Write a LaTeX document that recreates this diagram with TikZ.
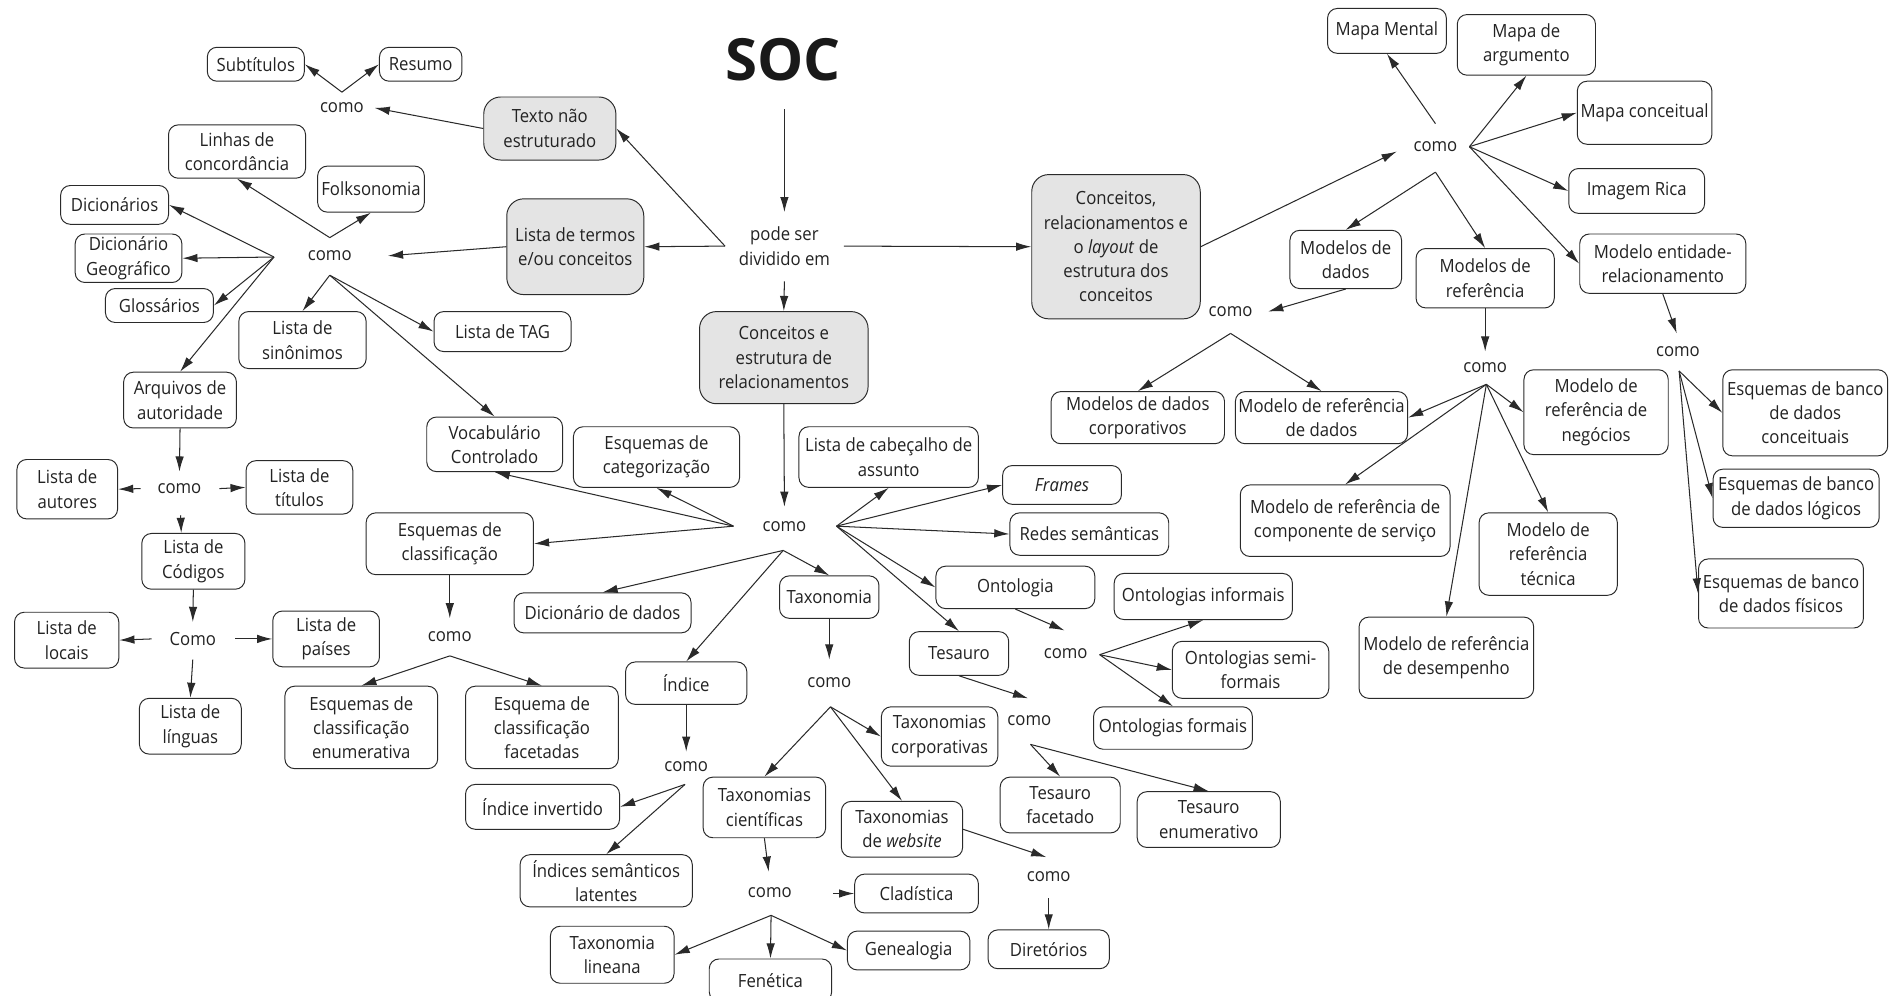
\documentclass[tikz,border=0pt]{standalone}
\usepackage{fontspec}
\setmainfont{Open Sans}[FakeStretch=0.92]
\newfontfamily\titlefont{Open Sans}
\usetikzlibrary{arrows.meta}

\definecolor{ink}{HTML}{222222}
\definecolor{edge}{HTML}{2A2A2A}
\definecolor{shade}{HTML}{E4E4E4}

\tikzset{
  txt/.style={font=\fontsize{15}{20}\selectfont, text=ink},
  bx/.style={txt, draw=edge, line width=0.8pt, rounded corners=8pt,
             align=center, inner sep=2pt, fill=white},
  gbx/.style={bx, fill=shade, rounded corners=14pt},
  sz/.style 2 args={minimum width=#1, minimum height=#2},
  lbl/.style={txt, inner sep=0pt, align=center},
  arr/.style={-{Latex[length=12.5pt,width=7pt]}, line width=0.85pt, draw=edge},
}

\begin{document}
\begin{tikzpicture}[x=1pt,y=-1pt]
\useasboundingbox (0,0) rectangle (1568,821);
\clip (0,0) rectangle (1568,821);

% ---------- title and first split ----------
\node[lbl, font=\titlefont\bfseries\fontsize{48}{50}\selectfont, text=black!90] (soc) at (646,49) {SOC};
\node[lbl] (pode) at (647,203) {pode ser\\dividido em};
\node[gbx, sz={109}{52}]  (texto)  at (453.5,106)  {Texto não\\estruturado};
\node[gbx, sz={113}{79}]  (termos) at (474.5,203.5) {Lista de termos\\e/ou conceitos};
\node[gbx, sz={139}{76}]  (cer)    at (646.5,295)  {Conceitos e\\estrutura de\\relacionamentos};
\node[gbx, sz={139}{119}] (crl)    at (920.5,203.5) {Conceitos,\\relacionamentos e\\o \textit{layout} de\\estrutura dos\\conceitos};

% ---------- left branch ----------
\node[bx, sz={80}{28}]  (subt)    at (211,53)    {Subtítulos};
\node[bx, sz={68}{28}]  (resumo)  at (347,53)    {Resumo};
\node[lbl]              (c1)      at (282,89)    {como};
\node[bx, sz={113}{44}] (linhas)  at (195.5,125) {Linhas de\\concordância};
\node[bx, sz={88}{38}]  (folk)    at (306,156)   {Folksonomia};
\node[bx, sz={89}{32}]  (dic)     at (94.5,169)  {Dicionários};
\node[bx, sz={88}{40}]  (dicgeo)  at (106,213)   {Dicionário\\Geográfico};
\node[bx, sz={89}{28}]  (gloss)   at (131.5,252) {Glossários};
\node[lbl]              (c2)      at (272,211)   {como};
\node[bx, sz={105}{47}] (sinon)   at (249.5,280.5) {Lista de\\sinônimos};
\node[bx, sz={113}{33}] (tag)     at (414.5,273.5) {Lista de TAG};
\node[bx, sz={93}{46}]  (arq)     at (148.5,330) {Arquivos de\\autoridade};
\node[bx, sz={112}{45}] (vocab)   at (408,366.5) {Vocabulário\\Controlado};
\node[lbl]              (c3)      at (148,403)   {como};
\node[bx, sz={83}{49}]  (autores) at (55.5,403.5) {Lista de\\autores};
\node[bx, sz={88}{44}]  (titulos) at (247,402)   {Lista de\\títulos};
\node[bx, sz={85}{46}]  (codigos) at (159.5,463) {Lista de\\Códigos};
\node[lbl]              (c4)      at (159,527)   {Como};
\node[bx, sz={86}{46}]  (locais)  at (55,528)    {Lista de\\locais};
\node[bx, sz={88}{46}]  (paises)  at (269,527)   {Lista de\\países};
\node[bx, sz={84}{46}]  (linguas) at (157,599)   {Lista de\\línguas};

% ---------- central branch ----------
\node[bx, sz={137}{50}] (categ)    at (541.5,377) {Esquemas de\\categorização};
\node[bx, sz={148}{50}] (cabec)    at (733,377)   {Lista de cabeçalho de\\assunto};
\node[lbl]              (c5)       at (647,434)   {como};
\node[bx, sz={138}{51}] (classif)  at (371,448.5) {Esquemas de\\classificação};
\node[lbl]              (c6)       at (371,525)   {como};
\node[bx, sz={126}{68}] (enum)     at (298,600)   {Esquemas de\\classificação\\enumerativa};
\node[bx, sz={126}{68}] (facet)    at (447,600)   {Esquema de\\classificação\\facetadas};
\node[bx, sz={146}{33}] (dicdados) at (497,505.5) {Dicionário de dados};
\node[bx, sz={98}{32}]  (frames)   at (876,400)   {\textit{Frames}};
\node[bx, sz={131}{35}] (redes)    at (898.5,440.5) {Redes semânticas};
\node[bx, sz={82}{35}]  (taxo)     at (684,492.5) {Taxonomia};
\node[bx, sz={131}{35}] (onto)     at (837.5,484.5) {Ontologia};
\node[bx, sz={100}{35}] (indice)   at (566,563.5) {Índice};
\node[bx, sz={82}{36}]  (tesauro)  at (791,539)   {Tesauro};
\node[lbl]              (c7)       at (879,539)   {como};
\node[bx, sz={147}{38}] (ontoinf)  at (992.5,492) {Ontologias informais};
\node[bx, sz={129}{47}] (ontosemi) at (1031.5,552.5) {Ontologias semi-\\formais};
\node[bx, sz={131}{35}] (ontoform) at (967.5,600.5) {Ontologias formais};
\node[lbl]              (c8)       at (684,563)   {como};
\node[lbl]              (c9)       at (849,594)   {como};
\node[lbl]              (c10)      at (566,632)   {como};
\node[bx, sz={96}{49}]  (taxcorp)  at (775,607.5) {Taxonomias\\corporativas};
\node[bx, sz={101}{50}] (taxcien)  at (630.5,666) {Taxonomias\\científicas};
\node[bx, sz={100}{46}] (taxweb)   at (744,684)   {Taxonomias\\de \textit{website}};
\node[bx, sz={99}{46}]  (tesfac)   at (874.5,664) {Tesauro\\facetado};
\node[bx, sz={118}{46}] (tesenum)  at (997,676)   {Tesauro\\enumerativo};
\node[bx, sz={127}{37}] (indinv)   at (447.5,665.5) {Índice invertido};
\node[bx, sz={142}{43}] (indsem)   at (500,726.5) {Índices semânticos\\latentes};
\node[lbl]              (c11)      at (635,736)   {como};
\node[bx, sz={102}{32}] (clad)     at (756,737)   {Cladística};
\node[lbl]              (c12)      at (865,723)   {como};
\node[bx, sz={100}{32}] (diret)    at (865,783)   {Diretórios};
\node[bx, sz={102}{47}] (lineana)  at (505,787.5) {Taxonomia\\lineana};
\node[bx, sz={101}{35}] (fenet)    at (635.5,808.5) {Fenética};
\node[bx, sz={101}{32}] (geneal)   at (749.5,784) {Genealogia};

% ---------- right branch ----------
\node[lbl]              (c13)      at (1184,121)  {como};
\node[bx, sz={98}{37}]  (mapment)  at (1144,25.5) {Mapa Mental};
\node[bx, sz={114}{50}] (mapaarg)  at (1259,37)   {Mapa de\\argumento};
\node[bx, sz={111}{52}] (mapaconc) at (1356.5,93) {Mapa conceitual};
\node[bx, sz={112}{37}] (imagem)   at (1350,157.5) {Imagem Rica};
\node[bx, sz={137}{49}] (mer)      at (1371.5,217.5) {Modelo entidade-\\relacionamento};
\node[bx, sz={92}{48}]  (moddados) at (1110,214)  {Modelos de\\dados};
\node[bx, sz={114}{49}] (modref)   at (1225,229.5) {Modelos de\\referência};
\node[lbl]              (c14)      at (1015,257)  {como};
\node[bx, sz={143}{43}] (mdcorp)   at (938.5,344.5) {Modelos de dados\\corporativos};
\node[bx, sz={142}{43}] (mrdados)  at (1090,344.5) {Modelo de referência\\de dados};
\node[lbl]              (c15)      at (1225,303)  {como};
\node[bx, sz={119}{70}] (mrneg)    at (1316.5,340) {Modelo de\\referência de\\negócios};
\node[bx, sz={173}{59}] (mrcomp)   at (1109.5,429.5) {Modelo de referência de\\componente de serviço};
\node[bx, sz={114}{68}] (mrtec)    at (1277,457)  {Modelo de\\referência\\técnica};
\node[bx, sz={144}{67}] (mrdes)    at (1193,542.5) {Modelo de referência\\de desempenho};
\node[lbl]              (c16)      at (1384,290)  {como};
\node[bx, sz={136}{71}] (ebconc)   at (1489,340.5) {Esquemas de banco\\de dados\\conceituais};
\node[bx, sz={137}{48}] (eblog)    at (1481.5,411) {Esquemas de banco\\de dados lógicos};
\node[bx, sz={136}{57}] (ebfis)    at (1469,489.5) {Esquemas de banco\\de dados físicos};

% ---------- connectors: first split ----------
\draw[arr] ([shift={(1,41)}]soc.center) -- ([shift={(0,-28)}]pode.center);
\draw[arr] ([shift={(-49,0)}]pode.center) -- (texto.east);
\draw[arr] ([shift={(-49,0)}]pode.center) -- (termos.east);
\draw[arr] ([shift={(49,0)}]pode.center) -- (crl.west);
\draw[arr] ([shift={(0,29)}]pode.center) -- (cer.north);

% ---------- connectors: left branch ----------
\draw[arr] (texto.west) -- ([shift={(27,0)}]c1.center);
\foreach \t in {subt.east, resumo.west}
  \draw[arr] ([shift={(0,-13)}]c1.center) -- (\t);
\draw[arr] (termos.west) -- ([shift={(48,0)}]c2.center);
\foreach \t in {dic.east, dicgeo.east, gloss.east, arq.north}
  \draw[arr] ([shift={(-46,1)}]c2.center) -- (\t);
\foreach \t in {linhas.south, folk.south}
  \draw[arr] ([shift={(0,-15)}]c2.center) -- (\t);
\foreach \t in {sinon.north, tag.west, vocab.north}
  \draw[arr] ([shift={(0,16)}]c2.center) -- (\t);
\draw[arr] (arq.south) -- ([shift={(0,-14)}]c3.center);
\draw[arr] ([shift={(-32,0)}]c3.center) -- (autores.east);
\draw[arr] ([shift={(33,0)}]c3.center) -- (titulos.west);
\draw[arr] ([shift={(1,22)}]c3.center) -- ([xshift=-10pt]codigos.north);
\draw[arr] (codigos.south) -- ([shift={(0,-14)}]c4.center);
\draw[arr] ([shift={(-34,0)}]c4.center) -- (locais.east);
\draw[arr] ([shift={(35,0)}]c4.center) -- (paises.west);
\draw[arr] ([shift={(0,17)}]c4.center) -- (linguas.north);

% ---------- connectors: central branch ----------
\draw[arr] (cer.south) -- ([shift={(0,-16)}]c5.center);
\foreach \t in {vocab.south, categ.south, classif.east}
  \draw[arr] ([shift={(-42,0)}]c5.center) -- (\t);
\foreach \t in {dicdados.north, indice.north, taxo.north}
  \draw[arr] ([shift={(-1,20)}]c5.center) -- (\t);
\foreach \t in {cabec.south, frames.west, redes.west, onto.west, tesauro.north}
  \draw[arr] ([shift={(43,0)}]c5.center) -- (\t);
\draw[arr] (classif.south) -- ([shift={(0,-15)}]c6.center);
\foreach \t in {enum.north, facet.north}
  \draw[arr] ([shift={(0,16)}]c6.center) -- (\t);
\draw[arr] (indice.south) -- ([shift={(0,-12)}]c10.center);
\foreach \t in {indinv.east, indsem.north}
  \draw[arr] ([shift={(-1,15)}]c10.center) -- (\t);
\draw[arr] (taxo.south) -- ([shift={(0,-19)}]c8.center);
\foreach \t in {taxcorp.west, taxcien.north, taxweb.north}
  \draw[arr] ([shift={(1,20)}]c8.center) -- (\t);
\draw[arr] (taxcien.south) -- ([shift={(-1,-17)}]c11.center);
\draw[arr] ([shift={(52,1)}]c11.center) -- (clad.west);
\foreach \t in {lineana.east, fenet.north, geneal.west}
  \draw[arr] ([shift={(1,19)}]c11.center) -- (\t);
\draw[arr] (taxweb.east) -- ([shift={(-2,-16)}]c12.center);
\draw[arr] ([shift={(0,18)}]c12.center) -- (diret.north);
\draw[arr] (onto.south) -- ([shift={(-1,-19)}]c7.center);
\foreach \t in {ontoinf.south, ontosemi.west, ontoform.north}
  \draw[arr] ([shift={(28,1)}]c7.center) -- (\t);
\draw[arr] (tesauro.south) -- ([shift={(-1,-18)}]c9.center);
\foreach \t in {tesfac.north, tesenum.north}
  \draw[arr] ([shift={(1,20)}]c9.center) -- (\t);

% ---------- connectors: right branch ----------
\draw[arr] (crl.east) -- ([shift={(-32,4)}]c13.center);
\draw[arr] ([shift={(0,-19)}]c13.center) -- (mapment.south);
\foreach \t in {mapaarg.south, mapaconc.west, imagem.west, mer.west}
  \draw[arr] ([shift={(28,0)}]c13.center) -- (\t);
\foreach \t in {moddados.north, modref.north}
  \draw[arr] ([shift={(0,21)}]c13.center) -- (\t);
\draw[arr] (moddados.south) -- ([shift={(31,0)}]c14.center);
\foreach \t in {mdcorp.north, mrdados.north}
  \draw[arr] ([shift={(0,18)}]c14.center) -- (\t);
\draw[arr] (modref.south) -- ([shift={(0,-13)}]c15.center);
\foreach \t in {mrdados.east, mrneg.west, mrcomp.north, mrtec.north, mrdes.north}
  \draw[arr] ([shift={(1,14)}]c15.center) -- (\t);
\draw[arr] (mer.south) -- ([shift={(-1,-15)}]c16.center);
\foreach \t in {ebconc.west, eblog.west, ebfis.west}
  \draw[arr] ([shift={(1,16)}]c16.center) -- (\t);
\end{tikzpicture}
\end{document}
